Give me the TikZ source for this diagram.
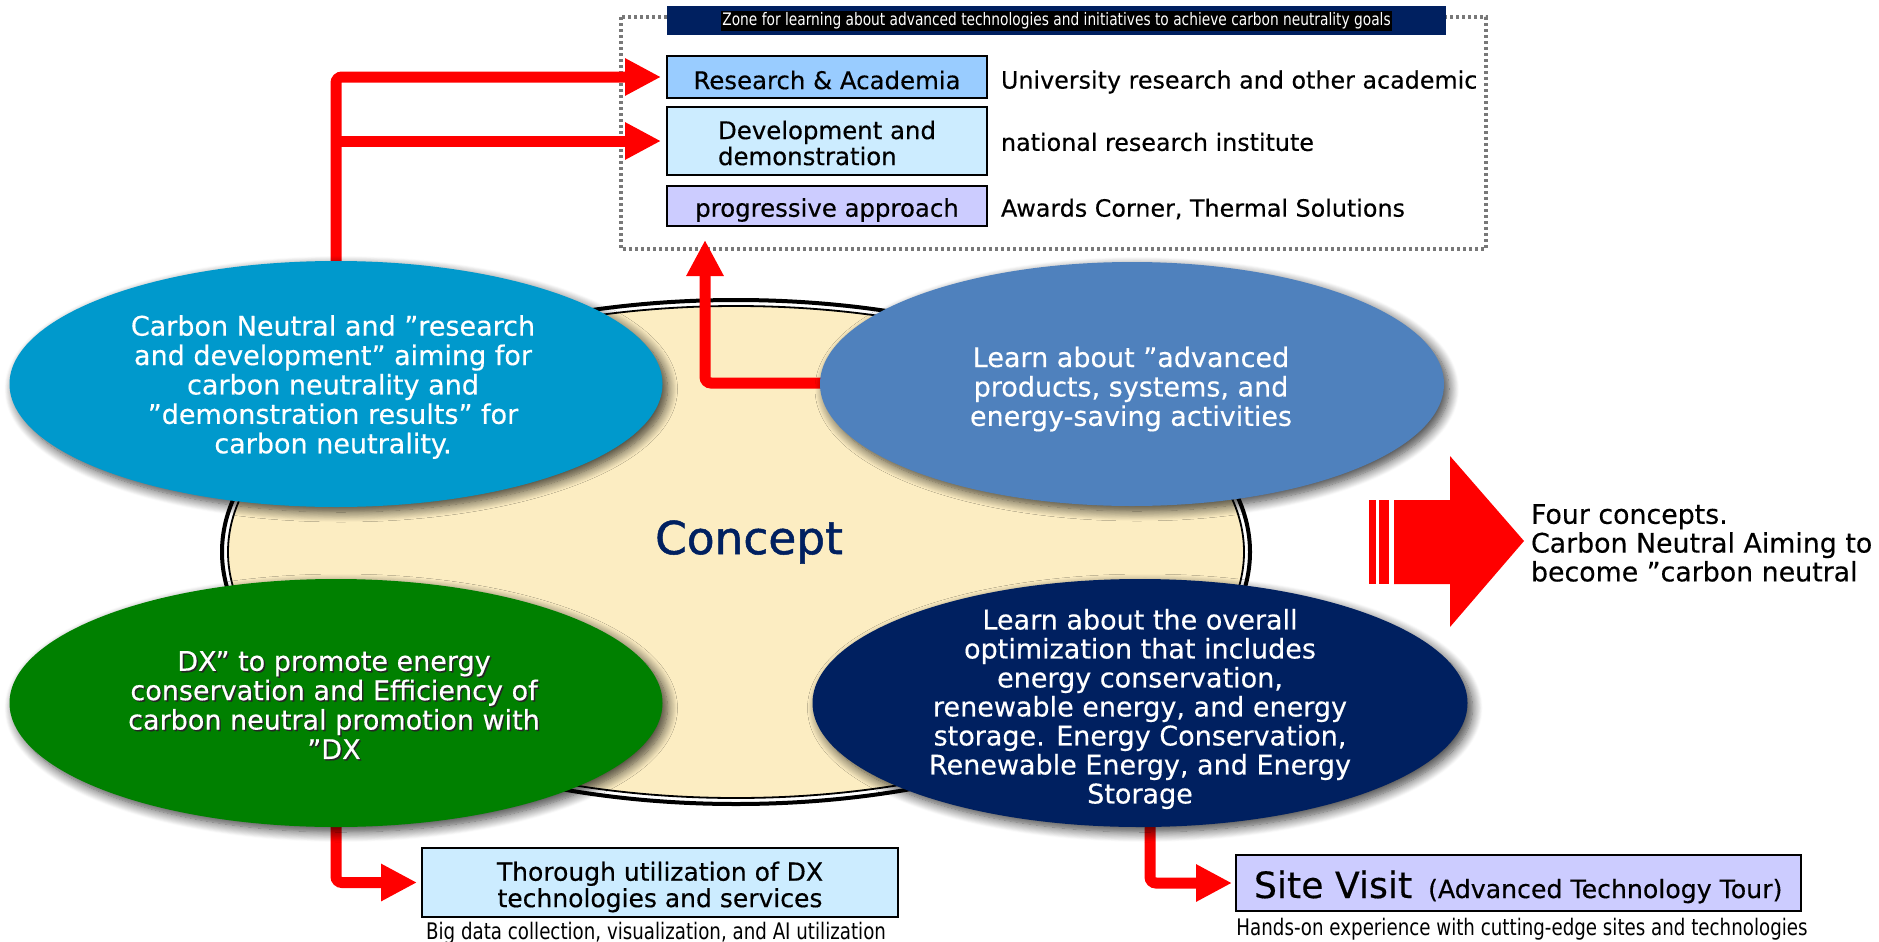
\documentclass[tikz,border=0pt]{standalone}
\usepackage{fontspec}
\setmainfont{DejaVu Sans}[FakeBold=0.4]
\newfontfamily\condfont{DejaVu Sans}[FakeStretch=0.8]
\newfontfamily\headfont{DejaVu Sans}[FakeBold=1.1]
\usetikzlibrary{shapes.geometric,arrows.meta,shadows.blur}

\definecolor{cream}{RGB}{252,237,194}
\definecolor{cblue}{RGB}{0,153,204}
\definecolor{csteel}{RGB}{79,129,189}
\definecolor{cgreen}{RGB}{0,128,0}
\definecolor{cnavy}{RGB}{0,32,96}
\definecolor{boxA}{RGB}{153,204,255}
\definecolor{boxB}{RGB}{204,236,255}
\definecolor{boxC}{RGB}{204,204,255}
\definecolor{zonegray}{RGB}{120,120,120}

\begin{document}
\begin{tikzpicture}[x=0.5pt,y=-0.5pt,
  every node/.style={inner sep=0pt, outer sep=0pt},
  bubble/.style={shape=ellipse, inner sep=0pt,
    blur shadow={shadow xshift=2.5pt, shadow yshift=-2.5pt,
      shadow blur radius=5pt, shadow blur steps=12, shadow opacity=75}},
  bubbletext/.style={text=white, align=center, font=\fontsize{13.5}{14.7}\selectfont},
  itembox/.style={draw=black, line width=1.1pt, minimum width=160pt,
    font=\fontsize{12.2}{13}\selectfont},
  itemlabel/.style={font=\fontsize{12.2}{13}\selectfont},
  note/.style={anchor=west, font=\fontsize{11.9}{14}\selectfont},
  smallnote/.style={font=\condfont\fontsize{11.4}{12}\selectfont},
  redline/.style={draw=red, line width=5.5pt, -{Triangle[length=18pt,width=17.5pt]}}]

\useasboundingbox (0,0) rectangle (1879,942);

% ---- central "Concept" ellipse with double rim ----
\node[shape=ellipse, fill=white, draw=black, line width=2pt,
      minimum width=514pt, minimum height=252pt] (baseOuter) at (736,552) {};
\node[shape=ellipse, fill=cream, draw=black, line width=0.9pt,
      minimum width=508pt, minimum height=246pt] (baseInner) at (736,552) {};
\node[font=\headfont\fontsize{22.7}{24}\selectfont, text=cnavy] (concept) at (749,542) {Concept};

% ---- zone of advanced technologies ----
\draw[zonegray, line width=1.6pt, dash pattern=on 1.5pt off 1.5pt] (621,17) rectangle (1486,249);
\node[fill=cnavy, minimum width=389.5pt, minimum height=14.5pt] (zoneHead) at (1056.5,20.5) {};
\node[fill=black, text=white, inner sep=0.8pt, font=\condfont\fontsize{8.6}{9}\selectfont]
  (zoneTitle) at (1056.5,21)
  {Zone for learning about advanced technologies and initiatives to achieve carbon neutrality goals};

% ---- item boxes in the zone ----
\node[itembox, fill=boxA, minimum height=21pt] (research) at (827,77) {};
\node[itemlabel] (researchLabel) at (827,80) {Research \& Academia};
\node[itembox, fill=boxB, minimum height=34pt] (devbox) at (827,141) {};
\node[itemlabel, align=left] (devLabel) at (827,143) {Development and\\demonstration};
\node[itembox, fill=boxC, minimum height=20pt] (progbox) at (827,206) {};
\node[itemlabel] (progLabel) at (827,210) {progressive approach};

\node[note] (researchNote) at (1001,82) {University research and other academic};
\node[note] (devNote) at (1001,142) {national research institute};
\node[note] (progNote) at (1001,209) {Awards Corner, Thermal Solutions};

% ---- lower boxes ----
\node[draw=black, line width=1.1pt, fill=boxB, minimum width=238pt, minimum height=34.5pt]
  (dxbox) at (660,882.5) {};
\node[align=center, font=\fontsize{12.5}{13.2}\selectfont] (dxLabel) at (660,887)
  {Thorough utilization of DX\\technologies and services};
\node[smallnote] (dxNote) at (656,933) {Big data collection, visualization, and AI utilization};

\node[draw=black, line width=1.1pt, fill=boxC, minimum width=282.5pt, minimum height=28pt]
  (sitebox) at (1518.5,883) {};
\node[anchor=base west] (siteLabel) at (1254,898)
  {{\fontsize{18.1}{19}\selectfont Site Visit}\hspace{8pt}{\fontsize{12.6}{14}\selectfont (Advanced Technology Tour)}};
\node[smallnote] (siteNote) at (1522,929)
  {Hands-on experience with cutting-edge sites and technologies};

% ---- red connectors (they start inside the bubbles drawn over them) ----
\coordinate (blueTop) at (336,300);
\coordinate (steelLeft) at (870,383);
\coordinate (greenFoot) at (336,780);
\coordinate (navyFoot) at (1150,790);
\coordinate (upTip) at (705,240);
\draw[redline, rounded corners=3pt, shorten >=3pt] (blueTop) |- (research.west);
\draw[redline, shorten >=3pt] (blueTop |- devbox.west) -- (devbox.west);
\draw[redline, rounded corners=3pt] (steelLeft) -| (upTip);
\draw[redline, rounded corners=3pt, shorten >=2.5pt] (greenFoot) |- (dxbox.west);
\draw[redline, rounded corners=3pt, shorten >=2pt] (navyFoot) |- (sitebox.west);

% ---- four concept bubbles ----
\node[bubble, fill=cblue, minimum width=326.5pt, minimum height=123pt] (blue) at (336,384) {};
\node[bubbletext] (blueText) at (333,387)
  {Carbon Neutral and ”research\\and development” aiming for\\carbon neutrality and\\”demonstration results” for\\carbon neutrality.};

\node[bubble, fill=csteel, minimum width=312pt, minimum height=122pt] (steel) at (1132,384) {};
\node[bubbletext] (steelText) at (1131,389)
  {Learn about ”advanced\\products, systems, and\\energy-saving activities};

\node[bubble, fill=cgreen, minimum width=326.5pt, minimum height=124pt] (green) at (336,703) {};
\node[bubbletext, text=black!85] (greenShade) at (335.5,706.5)
  {DX” to promote energy\\conservation and Efficiency of\\carbon neutral promotion with\\”DX};
\node[bubbletext] (greenText) at (334,705)
  {DX” to promote energy\\conservation and Efficiency of\\carbon neutral promotion with\\”DX};

\node[bubble, fill=cnavy, minimum width=327.5pt, minimum height=124pt] (navy) at (1140,703) {};
\node[bubbletext, font=\fontsize{13.5}{14.5}\selectfont] (navyText) at (1140,709)
  {Learn about the overall\\optimization that includes\\energy conservation,\\renewable energy, and energy\\storage. Energy Conservation,\\Renewable Energy, and Energy\\Storage};

% ---- summary arrow and statement ----
\fill[red] (1369,500) rectangle (1376,584);
\fill[red] (1379,500) rectangle (1389,584);
\fill[red] (1394,500) -- (1450,500) -- (1450,456) -- (1524,541) -- (1450,627)
  -- (1450,584) -- (1394,584) -- cycle;
\node[anchor=west, align=left, font=\fontsize{13.4}{14.4}\selectfont] (summary) at (1531,543)
  {Four concepts.\\Carbon Neutral Aiming to\\become ”carbon neutral};
\end{tikzpicture}
\end{document}
